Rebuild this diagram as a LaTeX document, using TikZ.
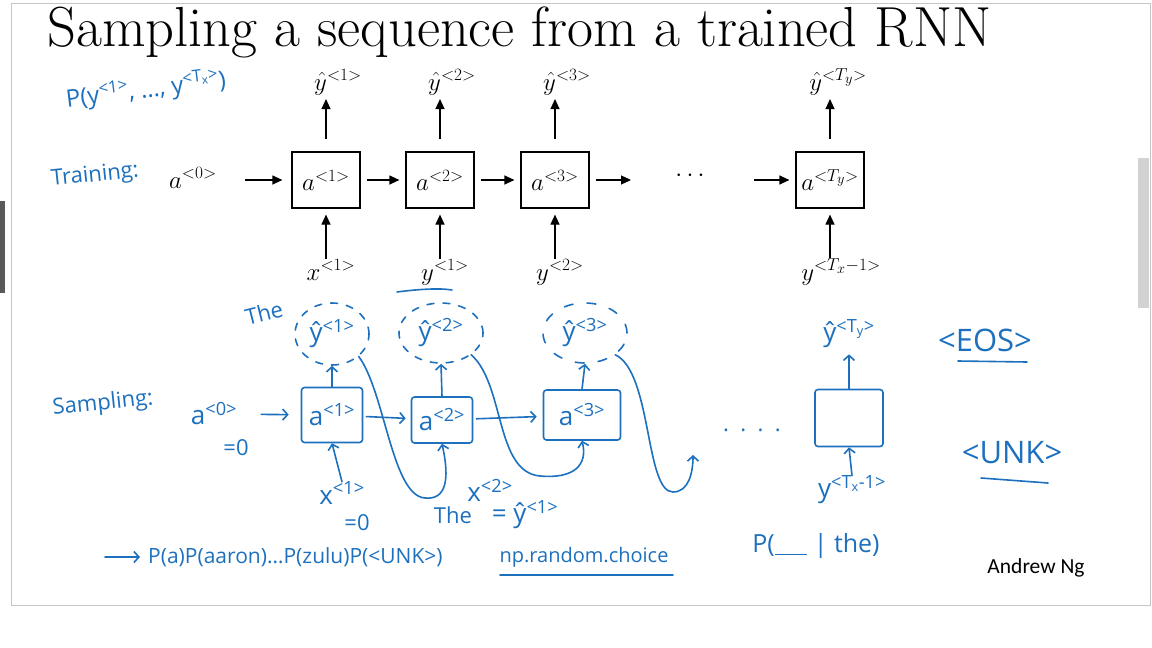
\documentclass[tikz,border=0pt]{standalone}
\usepackage{fontspec}
\newfontfamily\handfont{Open Sans}
\newfontfamily\calfont{Carlito}
\usetikzlibrary{arrows.meta,shapes.geometric,positioning}
\definecolor{ink}{RGB}{28,112,190}
\tikzset{
  cell/.style={draw,line width=1.2pt,minimum width=68,minimum height=56,inner sep=0,font=\fontsize{27}{30}\selectfont},
  lbl/.style={inner sep=1,font=\fontsize{27}{30}\selectfont},
  arr/.style={-{Triangle[length=10pt,width=9pt]},line width=1.2pt},
  hand/.style={ink,line width=1.6pt,line cap=round,line join=round},
  harr/.style={hand,-{Straight Barb[length=5pt,width=11pt]}},
  htext/.style={text=ink,inner sep=0,font=\handfont\fontsize{22}{24}\selectfont},
  hbig/.style={htext,font=\handfont\fontsize{26}{28}\selectfont},
  hbox/.style={hand,draw,rounded corners=3pt,inner sep=0},
  hcirc/.style={hand,draw,ellipse,dash pattern=on 7pt off 9pt,inner sep=0}
}
\newcommand{\hsup}[1]{\textsuperscript{#1}}
\begin{document}
\begin{tikzpicture}[x=1pt,y=-1pt]
\useasboundingbox (0,0) rectangle (1152,648);
% slide frame
\draw[gray!45,line width=1pt] (11,3) rectangle (1150,605);
\fill[gray!70!black] (0,201) rectangle (5,293);
\fill[gray!35] (1138,158) rectangle (1149,308);
\node[anchor=base west,inner sep=0,font=\fontsize{56.5}{64}\selectfont] (title) at (47,46) {Sampling a sequence from a trained RNN};

% training network
\node[lbl,anchor=base west] (a0) at (168,188) {$a^{<0>}$};
\foreach \i/\x/\inp in {1/326/x^{<1>},2/440/y^{<1>},3/555/y^{<2>}}{
  \node[cell] (a\i) at (\x,180) {$a^{<\i>}$};
  \node[lbl,anchor=base] (yh\i) at (\x+12,90) {$\hat{y}^{<\i>}$};
  \node[lbl,anchor=base] (in\i) at (\x+5,280) {$\inp$};
  \draw[arr,shorten <=12pt] (a\i.north) -- ([yshift=-3pt]a\i.north |- yh\i.south);
  \draw[arr,shorten >=6pt] (a\i.south |- in\i.north) -- (a\i.south);
}
\node[cell] (aT) at (830,180) {$a^{<T_y>}$};
\node[lbl,anchor=base] (yhT) at (838,90) {$\hat{y}^{<T_y>}$};
\node[lbl,anchor=base] (inT) at (841,280) {$y^{<T_x-1>}$};
\draw[arr,shorten <=12pt] (aT.north) -- ([yshift=-3pt]aT.north |- yhT.south);
\draw[arr,shorten >=6pt] (aT.south |- inT.north) -- (aT.south);
\node[lbl] (dots) at (690,176) {$\cdots$};
\coordinate (s0) at (245,180);
\coordinate (e3) at (631,180);
\coordinate (sT) at (754,180);
\draw[arr,shorten >=9pt] (s0) -- (a1);
\draw[arr,shorten <=6pt,shorten >=6pt] (a1) -- (a2);
\draw[arr,shorten <=6pt,shorten >=6pt] (a2) -- (a3);
\draw[arr,shorten <=6pt] (a3) -- (e3);
\draw[arr,shorten >=6pt] (sT) -- (aT);

% handwritten notes
\node[htext,rotate=7,font=\handfont\fontsize{24}{26}\selectfont] (pjoint) at (146,90) {P(y\hsup{<1>}, \dots, y\hsup{<T\textsubscript{x}>})};
\node[htext,rotate=6] (train) at (95,176) {Training:};
\draw[hand] (397,292) .. controls (420,289) and (440,288) .. (452,290);

% sampling
\node[htext,rotate=6] (samp) at (103,404) {Sampling:};
\node[hbig] (ha0) at (214,414) {a\hsup{<0>}};
\node[htext] (ha0z) at (236,448) {=0};
\node[hbox,minimum width=61,minimum height=55] (hb1) at (332,415) {};
\node[hbox,minimum width=61,minimum height=46] (hb2) at (442,420) {};
\node[hbox,minimum width=77,minimum height=50] (hb3) at (582,415) {};
\node[hbox,minimum width=68,minimum height=57] (hbT) at (849,418) {};
\node[hbig] at (hb1) {a\hsup{<1>}};
\node[hbig] at (hb2) {a\hsup{<2>}};
\node[hbig] at (hb3) {a\hsup{<3>}};
\draw[harr,shorten <=24pt,shorten >=12pt] (ha0) -- (hb1);
\draw[harr,shorten <=3pt,shorten >=5pt] (hb1) -- (hb2);
\draw[harr,shorten <=3pt,shorten >=6pt] (hb2) -- (hb3);
\node[htext] (hdots) at (752,430) {.\ \ .\ \ .\ \ .};

% sampled outputs
\node[hcirc,minimum width=74,minimum height=62] (s1) at (332,334) {};
\node[hcirc,minimum width=84,minimum height=60] (s2) at (441,333) {};
\node[hcirc,minimum width=84,minimum height=60,dash pattern=on 9pt off 14pt] (s3) at (585,333) {};
\node[hbig] (ys1) at (s1) {ŷ\hsup{<1>}};
\node[hbig] (ys2) at (s2) {ŷ\hsup{<2>}};
\node[hbig] (ys3) at (s3) {ŷ\hsup{<3>}};
\node[hbig] (ysT) at (849,334) {ŷ\hsup{<T\textsubscript{y}>}};
\node[htext,rotate=14] (the1) at (264,313) {The};
\draw[harr] (hb1.north) -- (s1.south);
\draw[harr] (hb2.north) -- (s2.south);
\draw[harr] (hb3.north) -- (s3.south);
\draw[harr] (hbT.north) -- ([yshift=-6pt]hbT.north |- ysT.south);

% inputs of the sampling steps
\node[hbig] (hx1) at (342,493) {x\hsup{<1>}};
\node[htext] (hx1z) at (357,523) {=0};
\draw[harr] (hx1.north) -- (hb1.south);
\node[hbig] (hyT) at (852,490) {y\hsup{<T\textsubscript{x}-1>}};
\draw[harr] (hyT.north) -- (hbT.south);
\node[htext] (the2) at (453,515) {The};
\node[hbig] (hx2) at (490,490) {x\hsup{<2>}};
\node[hbig] (hy1) at (525,515) {= ŷ\hsup{<1>}};

% feeding the samples back in
\coordinate (t3) at (693,455);
\draw[harr] (s1.south east) .. controls (385,392) and (392,496) .. (425,498)
  .. controls (446,500) and (450,480) .. (hb2.south);
\draw[harr] (s2.south east) .. controls (505,385) and (495,472) .. (540,476)
  .. controls (574,479) and (588,465) .. (hb3.south);
\draw[harr] (s3.south east) .. controls (652,372) and (645,492) .. (673,492)
  .. controls (689,492) and (693,472) .. (t3);

% vocabulary notes
\node[htext,font=\handfont\fontsize{31}{34}\selectfont] (eos) at (985,340) {<EOS>};
\draw[hand] (958,361) -- (1027,362);
\node[htext,font=\handfont\fontsize{31}{34}\selectfont] (unk) at (1012,453) {<UNK>};
\draw[hand] (981,478) -- (1048,483);
\coordinate (pa) at (105,557);
\node[htext,anchor=west,font=\handfont\fontsize{21}{24}\selectfont] (probs) at (148,557) {P(a)P(aaron)\dots P(zulu)P(<UNK>)};
\draw[harr] (pa) -- ([xshift=-8pt]probs.west);
\node[htext,font=\handfont\fontsize{20}{22}\selectfont] (npr) at (584,557) {np.random.choice};
\draw[hand] (500,575) -- (673,575);
\node[htext,font=\handfont\fontsize{25}{28}\selectfont] (pthe) at (816,546) {P(\underline{\ \ \ \ \ } | the)};
\node[inner sep=0,font=\calfont\fontsize{21.5}{24}\selectfont] (ng) at (1036,568) {Andrew Ng};
\end{tikzpicture}
\end{document}
